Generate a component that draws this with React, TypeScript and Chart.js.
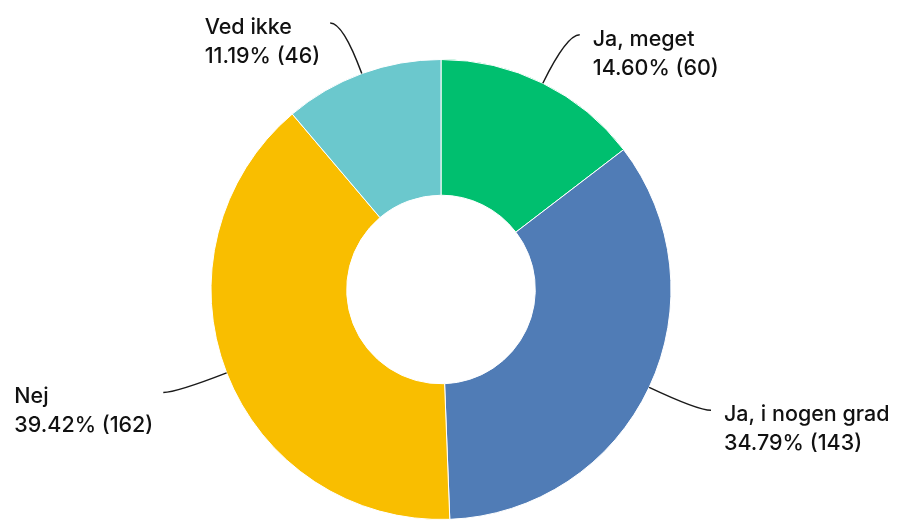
import React, { useEffect, useRef } from "react";
import { Chart, registerables } from "chart.js";

Chart.register(...registerables);

const categories = ["Ja, meget", "Ja, i nogen grad", "Nej", "Ved ikke"];
const counts = [60, 143, 162, 46];
const percentLabels = ["14.60%", "34.79%", "39.42%", "11.19%"];
const colors = ["#00BF6F", "#507CB6", "#F9BE00", "#6BC8CD"];

const FONT = '500 21.5px Inter, "Noto Sans", sans-serif';

const labelPlugin = {
  id: "leaderLabels",
  afterDatasetsDraw(chart: any) {
    const { ctx } = chart;
    const meta = chart.getDatasetMeta(0);
    ctx.save();
    ctx.font = FONT;
    ctx.strokeStyle = "#1a1a1a";
    ctx.lineWidth = 1.5;
    ctx.fillStyle = "#111111";
    meta.data.forEach((arc: any, i: number) => {
      const { x, y, startAngle, endAngle, outerRadius } = arc.getProps(
        ["x", "y", "startAngle", "endAngle", "outerRadius"],
        true
      );
      const mid = (startAngle + endAngle) / 2;
      const dx = Math.cos(mid);
      const dy = Math.sin(mid);
      const sx = x + outerRadius * dx;
      const sy = y + outerRadius * dy;
      const cx = x + (outerRadius + 54) * dx;
      const cy = y + (outerRadius + 54) * dy;
      const sign = dx >= 0 ? 1 : -1;
      const ex = cx + sign * 13;
      const ey = cy;
      ctx.beginPath();
      ctx.moveTo(sx, sy);
      ctx.quadraticCurveTo(cx, cy, ex, ey);
      ctx.stroke();
      const line1 = categories[i];
      const line2 = `${percentLabels[i]} (${counts[i]})`;
      const w = Math.max(ctx.measureText(line1).width, ctx.measureText(line2).width);
      const tx = sign > 0 ? ex + 13 : ex - 10 - w;
      ctx.textAlign = "left";
      ctx.textBaseline = "alphabetic";
      ctx.fillText(line1, tx, ey + 11);
      ctx.fillText(line2, tx, ey + 40);
    });
    ctx.restore();
  },
};

export default function App() {
  const ref = useRef<HTMLCanvasElement>(null);
  useEffect(() => {
    if (!ref.current) return;
    const chart = new Chart(ref.current, {
      type: "doughnut",
      data: {
        labels: categories,
        datasets: [
          {
            data: counts,
            backgroundColor: colors,
            borderColor: "#ffffff",
            borderWidth: 1,
          },
        ],
      },
      options: {
        animation: false,
        responsive: true,
        maintainAspectRatio: false,
        cutout: "41%",
        layout: { padding: { top: 59, bottom: 0, left: 0, right: 18 } },
        plugins: {
          legend: { display: false },
          tooltip: { enabled: false },
        },
      },
      plugins: [labelPlugin],
    });
    return () => chart.destroy();
  }, []);
  return (
    <div style={{ position: "absolute", left: 0, top: 0, width: 900, height: 520, background: "#fff" }}>
      <canvas ref={ref} />
    </div>
  );
}
